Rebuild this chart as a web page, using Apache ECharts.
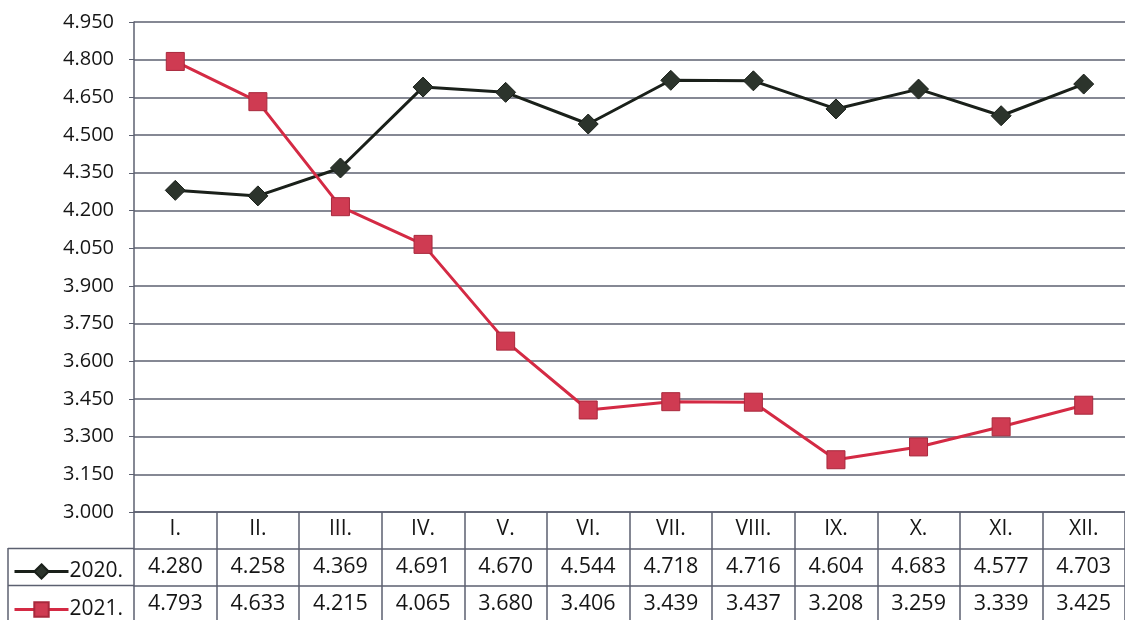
<!DOCTYPE html>
<html>
<head>
<meta charset="utf-8">
<script src="https://cdn.jsdelivr.net/npm/echarts@6/dist/echarts.min.js"></script>
<style>
  html, body { margin: 0; padding: 0; background: #fff; }
  #chart { width: 1125px; height: 620px; }
</style>
</head>
<body>
<div id="chart"></div>
<script>
const months = ['I.', 'II.', 'III.', 'IV.', 'V.', 'VI.', 'VII.', 'VIII.', 'IX.', 'X.', 'XI.', 'XII.']
const data2020 = [4280, 4258, 4369, 4691, 4670, 4544, 4718, 4716, 4604, 4683, 4577, 4703]
const data2021 = [4793, 4633, 4215, 4065, 3680, 3406, 3439, 3437, 3208, 3259, 3339, 3425]
const seriesNames = ['2020.', '2021.']

// 4280 -> "4.280"
const fmt = v => (v / 1000).toFixed(3)

const font = '"Open Sans", Lato, sans-serif'
const gridColor = '#5c6070'
const txt = '#151515'

const chart = echarts.init(document.getElementById('chart'))

const tableAxis = (values, offset) => ({
  type: 'category',
  position: 'bottom',
  offset: offset,
  boundaryGap: true,
  data: values.map(fmt),
  axisLine: { show: true, lineStyle: { color: gridColor, width: 1.5 } },
  axisTick: { show: false },
  axisLabel: { margin: 7, fontSize: 21.5, color: txt, fontFamily: font, interval: 0 }
})

const legendRow = (name, top) => ({
  left: 8, top: top, itemWidth: 54, itemHeight: 18, itemGap: 2,
  data: [name],
  lineStyle: { width: 3 },
  textStyle: { fontSize: 21, color: txt, fontFamily: font, padding: [0, 0, 0, -4] }
})

const option = {
  animation: false,
  backgroundColor: '#fff',
  grid: { left: 134, right: 0, top: 22, bottom: 108 },
  legend: [legendRow(seriesNames[0], 556), legendRow(seriesNames[1], 594)],
  xAxis: [
    {
      type: 'category',
      boundaryGap: true,
      data: months,
      axisLine: { show: true, lineStyle: { color: gridColor, width: 1.5 } },
      axisTick: { show: true, length: 108, alignWithLabel: false, lineStyle: { color: gridColor, width: 1.5 } },
      axisLabel: { margin: 7, fontSize: 21, color: txt, fontFamily: font, interval: 0 }
    },
    tableAxis(data2020, 37),
    tableAxis(data2021, 74)
  ],
  yAxis: {
    type: 'value',
    min: 3000,
    max: 4950,
    interval: 150,
    axisLine: { show: true, lineStyle: { color: gridColor, width: 1.5 } },
    axisTick: { show: true, length: 5, lineStyle: { color: gridColor } },
    splitLine: { show: true, lineStyle: { color: gridColor, width: 1.5 } },
    axisLabel: { margin: 20, fontSize: 20, color: txt, fontFamily: font, formatter: fmt }
  },
  graphic: [
    { type: 'line', shape: { x1: 8, y1: 548.5, x2: 134, y2: 548.5 }, style: { stroke: gridColor, lineWidth: 1.5 } },
    { type: 'line', shape: { x1: 8, y1: 585.5, x2: 134, y2: 585.5 }, style: { stroke: gridColor, lineWidth: 1.5 } },
    { type: 'line', shape: { x1: 8, y1: 548, x2: 8, y2: 620 }, style: { stroke: gridColor, lineWidth: 1.5 } }
  ],
  series: [
    {
      name: seriesNames[0],
      type: 'line',
      data: data2020,
      symbol: 'diamond',
      symbolSize: 20,
      lineStyle: { color: '#1a201a', width: 3 },
      itemStyle: { color: '#2c342c', borderColor: '#1a201a', borderWidth: 1 },
      z: 3
    },
    {
      name: seriesNames[1],
      type: 'line',
      data: data2021,
      symbol: 'rect',
      symbolSize: 18,
      lineStyle: { color: '#d42a44', width: 3 },
      itemStyle: { color: '#cf3b52', borderColor: '#a8283c', borderWidth: 1 },
      z: 4
    }
  ]
}

chart.setOption(option)
</script>
</body>
</html>
